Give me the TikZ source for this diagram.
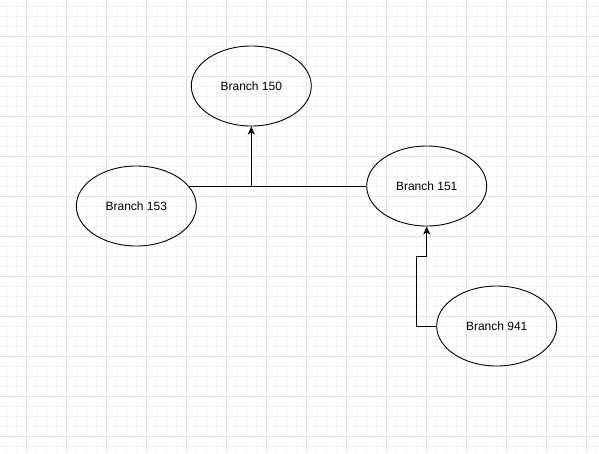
\documentclass[tikz,border=0pt]{standalone}
\usepackage{fontspec}
\setmainfont{Liberation Sans}
\usetikzlibrary{arrows.meta,shapes.geometric}
\definecolor{minorgrid}{HTML}{F5F5F5}
\definecolor{majorgrid}{HTML}{E4E4E4}
\begin{document}
\begin{tikzpicture}[x=1pt,y=-1pt,
  branch/.style={ellipse,draw=black,line width=0.9pt,minimum width=120pt,minimum height=80pt,inner sep=0pt,font=\fontsize{12pt}{14pt}\selectfont},
  conn/.style={draw=black,line width=0.9pt},
  tip/.style={-{Stealth[length=8pt,width=7pt,inset=2pt]}}]
\useasboundingbox (0,0) rectangle (599,453);
\fill[white] (0,0) rectangle (599,453);
\foreach \k in {0,...,59} {\draw[minorgrid,line width=0.6pt] (6.7+10*\k,0) -- (6.7+10*\k,453);}
\foreach \k in {0,...,45} {\draw[minorgrid,line width=0.6pt] (0,6.7+10*\k) -- (599,6.7+10*\k);}
\foreach \k in {0,...,14} {\draw[majorgrid,line width=0.8pt] (26.7+40*\k,0) -- (26.7+40*\k,453);}
\foreach \k in {0,...,11} {\draw[majorgrid,line width=0.8pt] (0,36.7+40*\k) -- (599,36.7+40*\k);}
\node[branch] (b150) at (251.3,86) {Branch 150};
\node[branch] (b153) at (136.3,206) {Branch 153};
\node[branch] (b151) at (426.7,186) {Branch 151};
\node[branch] (b941) at (496.7,326) {Branch 941};
\coordinate (j) at (251.3,186);
\draw[conn] (b153.21 |- b151.west) -- (b151.west);
\draw[conn,tip] (j) -- (b150.south);
\coordinate (k1) at (416.7,326);
\coordinate (k2) at (416.7,256);
\coordinate (k3) at (426.7,256);
\draw[conn,tip] (b941.west) -- (k1) -- (k2) -- (k3) -- (b151.south);
\end{tikzpicture}
\end{document}
